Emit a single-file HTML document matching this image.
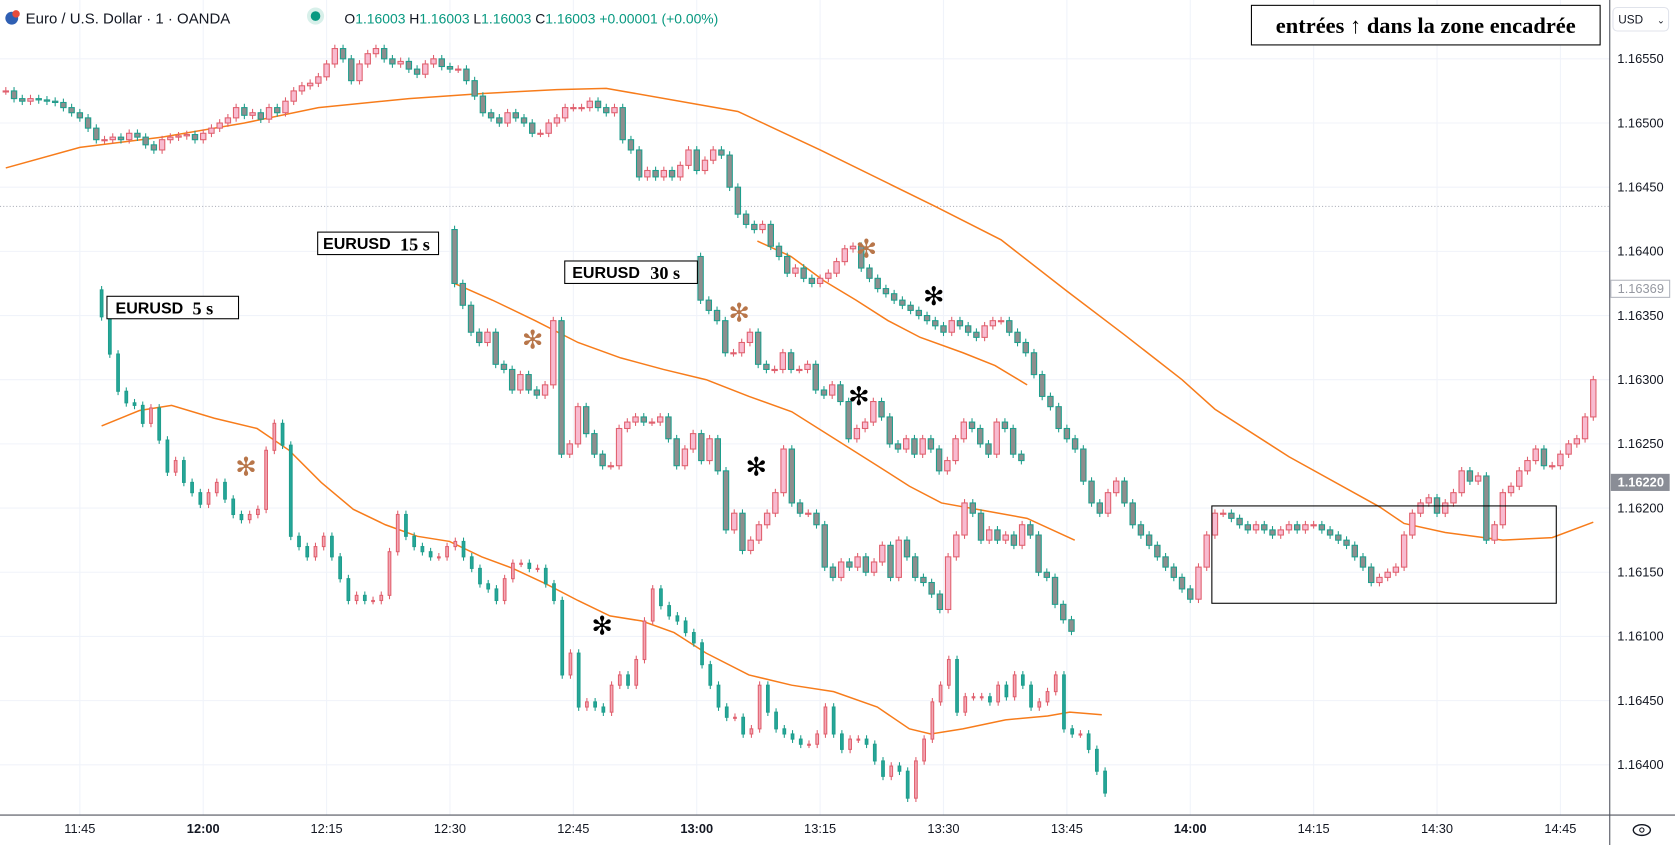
<!DOCTYPE html>
<html><head><meta charset="utf-8">
<style>
html,body{margin:0;padding:0;background:#fff;overflow:hidden}
svg{display:block}
.t{font-family:"Liberation Sans","DejaVu Sans",sans-serif}
.s{font-family:"Liberation Serif",serif;font-weight:bold}
</style></head>
<body>
<svg id="chart" width="1675" height="845" viewBox="0 0 1566 790" preserveAspectRatio="none" xmlns="http://www.w3.org/2000/svg">
<rect x="0" y="0" width="1566" height="790" fill="#fff"/>
<g id="grid"></g>
<line x1="0" y1="193" x2="1505" y2="193" stroke="#b2b5be" stroke-dasharray="1,2"/>
<g id="mas"></g>
<g id="candles"></g>
<rect x="1133" y="473" width="322" height="91" fill="none" stroke="#000" stroke-width="1"/>
<g><rect x="100" y="277" width="123" height="21" fill="#fff" stroke="#000"/><text class="t" x="108" y="293" font-size="15" font-weight="bold" fill="#000">EURUSD</text><text class="s" x="180" y="294" font-size="17">5 s</text></g>
<g><rect x="297" y="217" width="113" height="21" fill="#fff" stroke="#000"/><text class="t" x="302" y="233" font-size="15" font-weight="bold" fill="#000">EURUSD</text><text class="s" x="374" y="234" font-size="17">15 s</text></g>
<g><rect x="528" y="244" width="124" height="21" fill="#fff" stroke="#000"/><text class="t" x="535" y="260" font-size="15" font-weight="bold" fill="#000">EURUSD</text><text class="s" x="608" y="261" font-size="17">30 s</text></g>
<g id="stars"></g>
<g><rect x="1170" y="5" width="326" height="37" fill="#fff" stroke="#000"/><text class="s" x="1333" y="31" font-size="21" text-anchor="middle" fill="#000">entrées ↑ dans la zone encadrée</text></g>
<g>
<circle cx="11" cy="17" r="6" fill="#2f5fb3"/><circle cx="15" cy="13" r="3.5" fill="#e74c3c"/>
<text class="t" x="24" y="22" font-size="14" fill="#131722">Euro / U.S. Dollar · 1 · OANDA</text>
<circle cx="295" cy="15" r="8" fill="#d8f0ea"/><circle cx="295" cy="15" r="4.5" fill="#089981"/>
<text class="t" x="322" y="22" font-size="13" fill="#089981"><tspan fill="#131722">O</tspan>1.16003 <tspan fill="#131722">H</tspan>1.16003 <tspan fill="#131722">L</tspan>1.16003 <tspan fill="#131722">C</tspan>1.16003 +0.00001 (+0.00%)</text>
</g>
<line x1="1505" y1="0" x2="1505" y2="790" stroke="#50535e" stroke-width="1"/>
<line x1="0" y1="762" x2="1566" y2="762" stroke="#50535e" stroke-width="1"/>
<g><rect x="1508" y="7" width="52" height="22" rx="4" fill="#fff" stroke="#e0e3eb"/><text class="t" x="1513" y="22" font-size="11" fill="#131722">USD</text><text class="t" x="1549" y="22" font-size="9" fill="#131722">⌄</text></g>
<g id="yaxis"></g>
<g id="xaxis"></g>
<g><rect x="1506" y="262" width="55" height="16" fill="#fff" stroke="#b2b5be"/><text class="t" x="1534" y="274" font-size="12" text-anchor="middle" fill="#9598a1">1.16369</text></g>
<g><rect x="1506" y="443" width="55" height="16" fill="#8a8d96"/><text class="t" x="1534" y="455" font-size="12" font-weight="bold" text-anchor="middle" fill="#fff">1.16220</text></g>
<g><ellipse cx="1535" cy="776" rx="8" ry="5" fill="none" stroke="#131722" stroke-width="1.3"/><circle cx="1535" cy="776" r="2" fill="none" stroke="#131722"/></g>
</svg>
<script>
// ---- data (prices in pips above 1.16000) ----
const mainCloses=[525,519,517,519,518,517,516,512,508,504,
496,487,487,489,487,492,489,483,479,487,489,490,491,487,492,
496,500,504,512,506,508,503,512,508,517,525,529,531,536,546,
558,550,533,546,554,558,550,546,548,542,538,546,550,544,542,
542,533,521,508,504,500,508,504,500,492,492,500,504,512,512,
512,517,512,508,512,487,479,458,463,458,463,458,467,479,463,
471,479,475,450,429,421,417,421,404,396,383,387,379,375,379,
383,392,402,404,387,379,371,367,362,358,354,350,346,342,337,
346,342,337,333,342,346,346,337,329,321,304,287,279,262,254,
246,221,204,196,212,221,204,187,179,171,162,154,146,137,129,
154,179,196,196,192,187,183,187,183,179,183,187,183,187,187,
183,179,175,171,162,154,142,146,150,154,179,196,204,208,196,
204,212,229,221,225,175,187,212,217,229,237,246,233,233,242,
250,254,271,300];
const mainOpen0=525;
const s5Closes=[749,720,691,682,680,666,678,653,628,637,620,612,603,612,620,607,595,591,595,599,645,666,649,578,570,562,570,578,562,545,528,532,528,528,532,566,595,578,570,566,562,562,570,574,562,553,541,537,528,545,557,557,553,553,541,528,470,487,445,449,445,441,462,470,462,482,512,537,524,516,512,503,495,478,462,445,437,437,424,428,462,441,428,424,420,416,416,424,445,424,412,420,420,416,403,391,399,395,374,403,420,449,462,482,441,453,453,453,449,462,453,470,462,445,449,457,470,428,424,424,412,395,378];
const s5Open0=770;
const s15Closes=[375,358,337,329,337,312,308,292,304,292,288,296,346,242,250,279,258,242,233,233,262,267,271,267,267,271,254,233,246,258,237,254,229,183,196,167,175,187,196,212,246,204,196,196,187,154,146,158,154,162,150,158,171,146,175,162,146,142,133,121,162,179,204,196,175,183,175,179,171,187,179,150,146,125,113,104];
const s15Open0=417;
const s30Closes=[362,354,346,321,321,329,337,312,308,308,321,308,308,312,292,288,296,283,254,262,267,283,271,250,246,254,242,254,246,229,237,254,267,262,250,242,267,262,242,237];
const s30Open0=396;
const mainMaIdx=[0,9,19,29,38,49,58,67,73,89,99,113,121,129,136,143,147,156,167,170,175,182,188,193];
const mainMaVal=[465,481,489,500,512,519,523,526,527,509,479,435,409,369,335,300,277,240,201,188,181,175,177,189];
const s5MaIdx=[0,4.6,8.5,13.7,18.9,22.8,26.7,30.6,34.5,38.4,42.3,46.2,50,54,57.9,61.8,65.7,69.6,73.5,78.7,83.9,89,94.3,98.2,100.8,104.7,109.9,115,117.7,121.6];
const s5MaVal=[664,676,680,670,662,645,620,599,587,578,574,562,553,541,528,516,512,503,487,470,462,457,445,428,424,428,435,438,441,439];
const s15MaIdx=[0,4.6,9.8,15,20.2,25.4,30.6,35.8,41,46.2,51.4,55.3,59.2,64.4,69.6,75.4];
const s15MaVal=[375,362,346,329,317,308,300,287,275,254,233,217,204,198,192,175];
const s30MaIdx=[6.9,11,15,18.9,22.8,26.7,31.9,35.8,39.7];
const s30MaVal=[408,396,377,362,346,333,321,311,296];
const yTicks=[550,500,450,400,350,300,250,200,150,100,50,0];
const yTickLabels=["1.16550","1.16500","1.16450","1.16400","1.16350","1.16300","1.16250","1.16200","1.16150","1.16100","1.16450","1.16400"];
const xTickMin=[705,720,735,750,765,780,795,810,825,840,855,870,885];
const xTickLabels=["11:45","12:00","12:15","12:30","12:45","13:00","13:15","13:30","13:45","14:00","14:15","14:30","14:45"];
const starX=[230,498,691,810,563,707,803,873];
const starV=[232,331,352,402,108,232,287,365];
const starKind=["b","b","b","b","k","k","k","k"];

// ---- scales ----
const NS="http://www.w3.org/2000/svg";
const STEP=7.69;
function y(v){return 55+(550-v)*1.2;}
function xMin(m){return 190+(m-720)*STEP;}
const x0Main=xMin(696),x05=95,x015=425,x030=655;
const S5OFF=400;
function mk(tag,attrs,parent){const e=document.createElementNS(NS,tag);for(const k in attrs)e.setAttribute(k,attrs[k]);parent.appendChild(e);return e;}

const grid=document.getElementById('grid');
yTicks.forEach(v=>{const l=mk('line',{x1:0,x2:1505,y1:y(v),y2:y(v),stroke:'#f0f3fa'},grid);

});
xTickMin.forEach(m=>{const l=mk('line',{x1:xMin(m),x2:xMin(m),y1:0,y2:762,stroke:'#f0f3fa'},grid);

});

const ya=document.getElementById('yaxis');
yTicks.forEach((v,i)=>{const t=mk('text',{x:1512,y:y(v)+4,'font-size':12,fill:'#131722',class:'t'},ya);t.textContent=yTickLabels[i];

});
const xa=document.getElementById('xaxis');
xTickMin.forEach((m,i)=>{const t=mk('text',{x:xMin(m),y:779,'font-size':12,fill:'#131722','text-anchor':'middle',class:'t','font-weight':(m%60===0)?'bold':'normal'},xa);t.textContent=xTickLabels[i];

});

const cg=document.getElementById('candles');
function drawSeries(closes,open0,xStart,w,off,name,thin){
  const g=mk('g',{},cg);
  
  
  let o=open0;
  closes.forEach((c,i)=>{
    const x=xStart+i*STEP;const up=c>=o;
    const hi=Math.max(o,c)+3,lo=Math.min(o,c)-3;
    const border=up?'#e0606e':'#1e9e8c';
    const fill=thin?(up?'#f4a7b4':'#26a69a'):(up?'#f8bbd0':'#8e8e8e');
    const cd=mk('g',{},g);
    
    
    mk('line',{x1:x,x2:x,y1:y(hi-off),y2:y(lo-off),stroke:border,'stroke-width':1},cd);
    const yt=y(Math.max(o,c)-off),yb=y(Math.min(o,c)-off);
    mk('rect',{x:x-w/2,y:yt,width:w,height:Math.max(1,yb-yt),fill:fill,stroke:border,'stroke-width':1},cd);
    o=c;
  });
}
drawSeries(mainCloses,mainOpen0,x0Main,5,0,'main-1m-series',false);
drawSeries(s5Closes,s5Open0,x05,2.5,S5OFF,'eurusd-5s-series',true);
drawSeries(s15Closes,s15Open0,x015,5,0,'eurusd-15s-series',false);
drawSeries(s30Closes,s30Open0,x030,5,0,'eurusd-30s-series',false);

const mg=document.getElementById('mas');
function drawMA(idx,val,xStart,off,name){
  const pts=idx.map((k,i)=>(xStart+k*STEP).toFixed(1)+','+y(val[i]-off).toFixed(1)).join(' ');
  const p=mk('polyline',{points:pts,fill:'none',stroke:'#f77c1b','stroke-width':1.4},mg);
  
  
}
drawMA(mainMaIdx,mainMaVal,x0Main,0,'main-ma-line');
drawMA(s5MaIdx,s5MaVal,x05,S5OFF,'ma-5s-line');
drawMA(s15MaIdx,s15MaVal,x015,0,'ma-15s-line');
drawMA(s30MaIdx,s30MaVal,x030,0,'ma-30s-line');

const sg=document.getElementById('stars');
starX.forEach((sx,i)=>{const t=mk('text',{x:sx,y:y(starV[i])+8,'font-size':24,'text-anchor':'middle',fill:starKind[i]==='b'?'#b8764a':'#000',class:'t','font-family':'DejaVu Sans'},sg);t.textContent='✻';

});
</script>
</body></html>
